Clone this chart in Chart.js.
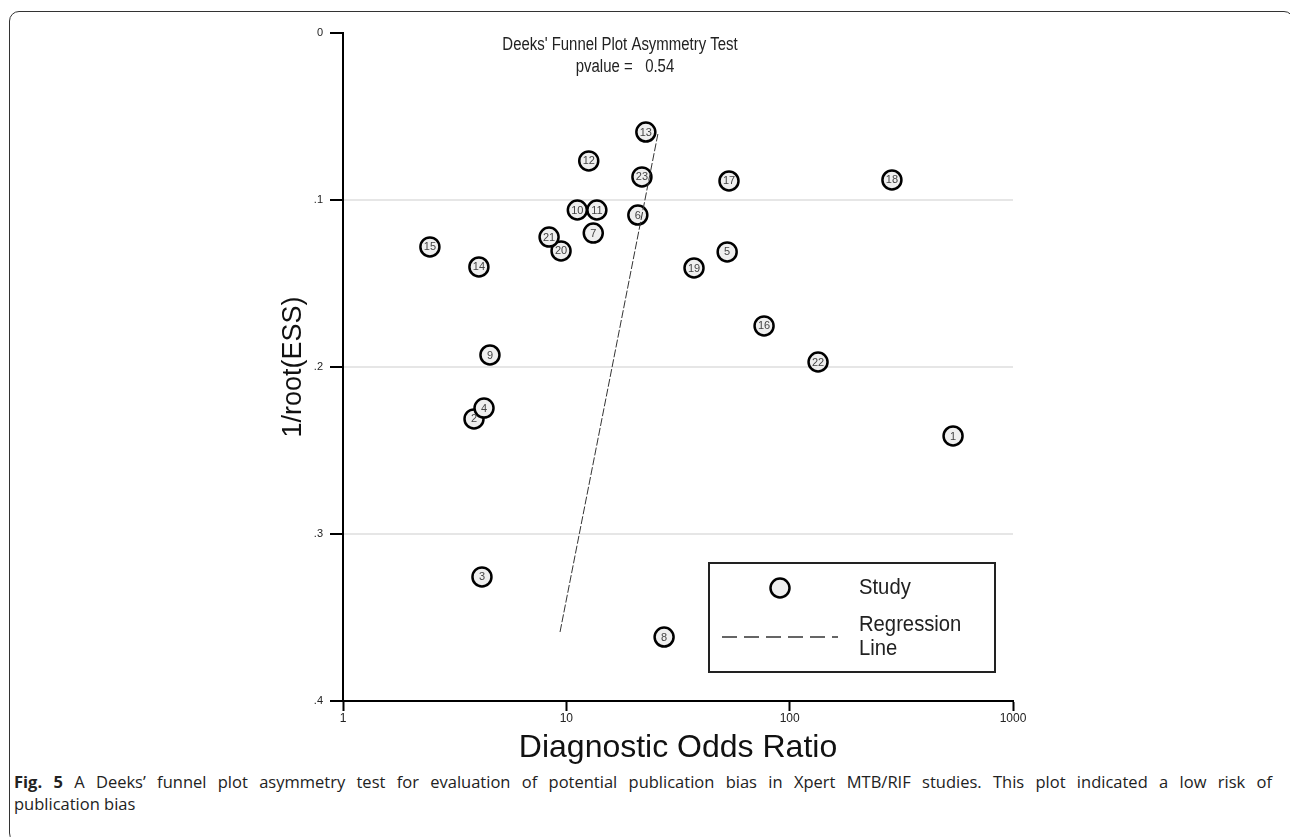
<!DOCTYPE html>
<html>
<head>
<meta charset="utf-8">
<title>Deeks' Funnel Plot</title>
<script src="https://cdn.jsdelivr.net/npm/chart.js@4"></script>
<style>
  html, body { margin: 0; padding: 0; background: #fff; overflow: hidden; }
  body { width: 1290px; height: 837px; position: relative; }
  #frame {
    position: absolute; left: 9px; top: 11px; width: 1285px; height: 832px;
    border: 1.5px solid #333; border-radius: 10px; box-sizing: border-box;
  }
  #wrap { position: absolute; left: 0; top: 0; width: 1290px; height: 770px; }
  #caption {
    position: absolute; left: 14px; top: 771px; width: 1258px;
    font-family: "Open Sans", sans-serif; font-size: 16.5px; line-height: 22px; color: #222;
  }
  #caption .l1 { display: block; text-align: justify; text-align-last: justify; white-space: normal; }
  #caption b { font-weight: 700; }
</style>
</head>
<body>
<div id="frame"></div>
<div id="wrap"><canvas id="deeks" width="1290" height="770"></canvas></div>
<div id="caption"><span class="l1"><b>Fig. 5</b> A Deeks’ funnel plot asymmetry test for evaluation of potential publication bias in Xpert MTB/RIF studies. This plot indicated a low risk of</span>publication bias</div>
<script>
// Deeks' funnel plot: 1/root(ESS) against diagnostic odds ratio (log scale)

const studyIds = [1, 2, 3, 4, 5, 6, 7, 8, 9, 10, 11, 12, 13, 14, 15, 16, 17, 18, 19, 20, 21, 22, 23];
const studyDOR = [539, 3.86, 4.19, 4.28, 52.5, 20.9, 13.2, 27.4, 4.55, 11.2, 13.7, 12.6, 22.7, 4.06, 2.45, 76.8, 53.5, 287, 37.3, 9.47, 8.37, 134, 21.8];
const studyInvRootESS = [0.2413, 0.2311, 0.3257, 0.2246, 0.1311, 0.1090, 0.1198, 0.3617, 0.1928, 0.1060, 0.1060, 0.0766, 0.0593, 0.1401, 0.1281, 0.1754, 0.0886, 0.0880, 0.1407, 0.1305, 0.1222, 0.1970, 0.0862];

const regressionDOR = [9.37, 25.7];
const regressionInvRootESS = [0.3587, 0.0605];

const xTickValues = [1, 10, 100, 1000];
const yTickLabels = ['0', '.1', '.2', '.3', '.4'];

const chartTitle = ["Deeks' Funnel Plot Asymmetry Test", 'pvalue =   0.54'];
const legendLabels = ['Study', ['Regression', 'Line']];

const FONT = '"Liberation Sans", Arial, sans-serif';

const studyPoints = studyIds.map((id, i) => ({ x: studyDOR[i], y: studyInvRootESS[i] }));
const regressionPoints = regressionDOR.map((v, i) => ({ x: v, y: regressionInvRootESS[i] }));

// text squeezed sideways, the original uses a narrow face
function narrowText(ctx, text, x, y, sx) {
    ctx.save();
    ctx.translate(x, y);
    ctx.scale(sx, 1);
    ctx.fillText(text, 0, 0);
    ctx.restore();
}

// numbers inside the markers, title text and the boxed legend
const annotations = {
    id: 'annotations',
    afterDatasetsDraw(chart) {
        const ctx = chart.ctx;
        const area = chart.chartArea;
        const meta = chart.getDatasetMeta(1);

        ctx.save();
        ctx.fillStyle = '#444';
        ctx.font = '11px ' + FONT;
        ctx.textAlign = 'center';
        ctx.textBaseline = 'middle';
        meta.data.forEach((pt, i) => {
            ctx.fillText(String(studyIds[i]), pt.x, pt.y + 0.5);
        });

        // title
        ctx.fillStyle = '#222';
        ctx.font = '18px ' + FONT;
        narrowText(ctx, chartTitle[0], area.left + 277, area.top + 12, 0.83);
        narrowText(ctx, chartTitle[1], area.left + 282, area.top + 34, 0.83);

        // legend box
        const bx = area.right - 304, by = area.bottom - 138, bw = 286, bh = 109;
        ctx.strokeStyle = '#222';
        ctx.lineWidth = 2;
        ctx.strokeRect(bx, by, bw, bh);

        ctx.beginPath();
        ctx.arc(bx + 71, by + 25, 9.5, 0, Math.PI * 2);
        ctx.fillStyle = '#efefef';
        ctx.fill();
        ctx.lineWidth = 2.5;
        ctx.strokeStyle = '#000';
        ctx.stroke();

        ctx.beginPath();
        ctx.setLineDash([15, 7]);
        ctx.lineWidth = 1.5;
        ctx.strokeStyle = '#333';
        ctx.moveTo(bx + 13, by + 74);
        ctx.lineTo(bx + 129, by + 74);
        ctx.stroke();
        ctx.setLineDash([]);

        ctx.fillStyle = '#222';
        ctx.font = '22px ' + FONT;
        ctx.textAlign = 'left';
        narrowText(ctx, legendLabels[0], bx + 150, by + 25, 0.92);
        narrowText(ctx, legendLabels[1][0], bx + 150, by + 62, 0.92);
        narrowText(ctx, legendLabels[1][1], bx + 150, by + 86, 0.92);
        ctx.restore();
    }
};

new Chart(document.getElementById('deeks'), {
    data: {
        datasets: [
            {
                type: 'line',
                label: 'Regression Line',
                data: regressionPoints,
                borderColor: '#333',
                borderWidth: 1,
                borderDash: [8, 2],
                pointRadius: 0,
                fill: false
            },
            {
                type: 'scatter',
                label: 'Study',
                data: studyPoints,
                pointStyle: 'circle',
                pointRadius: 9.5,
                pointBackgroundColor: '#efefef',
                pointBorderColor: '#000',
                pointBorderWidth: 2.5
            }
        ]
    },
    options: {
        responsive: false,
        animation: false,
        layout: { padding: { left: 277, right: 277, top: 33, bottom: 0 } },
        plugins: {
            legend: { display: false },
            tooltip: { enabled: false }
        },
        scales: {
            x: {
                type: 'logarithmic',
                min: 1,
                max: 1000,
                afterBuildTicks: axis => { axis.ticks = xTickValues.map(v => ({ value: v })); },
                afterFit: scale => { scale.height = 69; },
                ticks: {
                    callback: v => String(v),
                    color: '#222',
                    font: { family: FONT, size: 12 },
                    padding: 0,
                    autoSkip: false,
                    maxRotation: 0
                },
                grid: {
                    drawOnChartArea: false,
                    tickLength: 10,
                    tickColor: '#000',
                    tickWidth: 2
                },
                border: { color: '#000', width: 2 },
                title: {
                    display: true,
                    text: 'Diagnostic Odds Ratio',
                    color: '#111',
                    font: { family: FONT, size: 32 },
                    padding: { top: 0, bottom: 3 }
                }
            },
            y: {
                type: 'linear',
                reverse: true,
                min: 0,
                max: 0.4,
                afterFit: scale => { scale.width = 66; },
                ticks: {
                    stepSize: 0.1,
                    callback: v => yTickLabels[Math.round(v * 10)],
                    color: '#222',
                    font: { family: FONT, size: 11 },
                    padding: 7
                },
                grid: {
                    color: ctx => (ctx.tick && ctx.tick.value > 0.001 && ctx.tick.value < 0.399) ? '#e6e6e6' : 'rgba(0,0,0,0)',
                    lineWidth: 2,
                    tickLength: 13,
                    tickColor: '#000',
                    tickWidth: 2
                },
                border: { color: '#000', width: 2 },
                title: {
                    display: true,
                    text: '1/root(ESS)',
                    color: '#111',
                    font: { family: FONT, size: 27 },
                    padding: { top: 0, bottom: 0 }
                }
            }
        }
    },
    plugins: [annotations]
});
</script>
</body>
</html>
